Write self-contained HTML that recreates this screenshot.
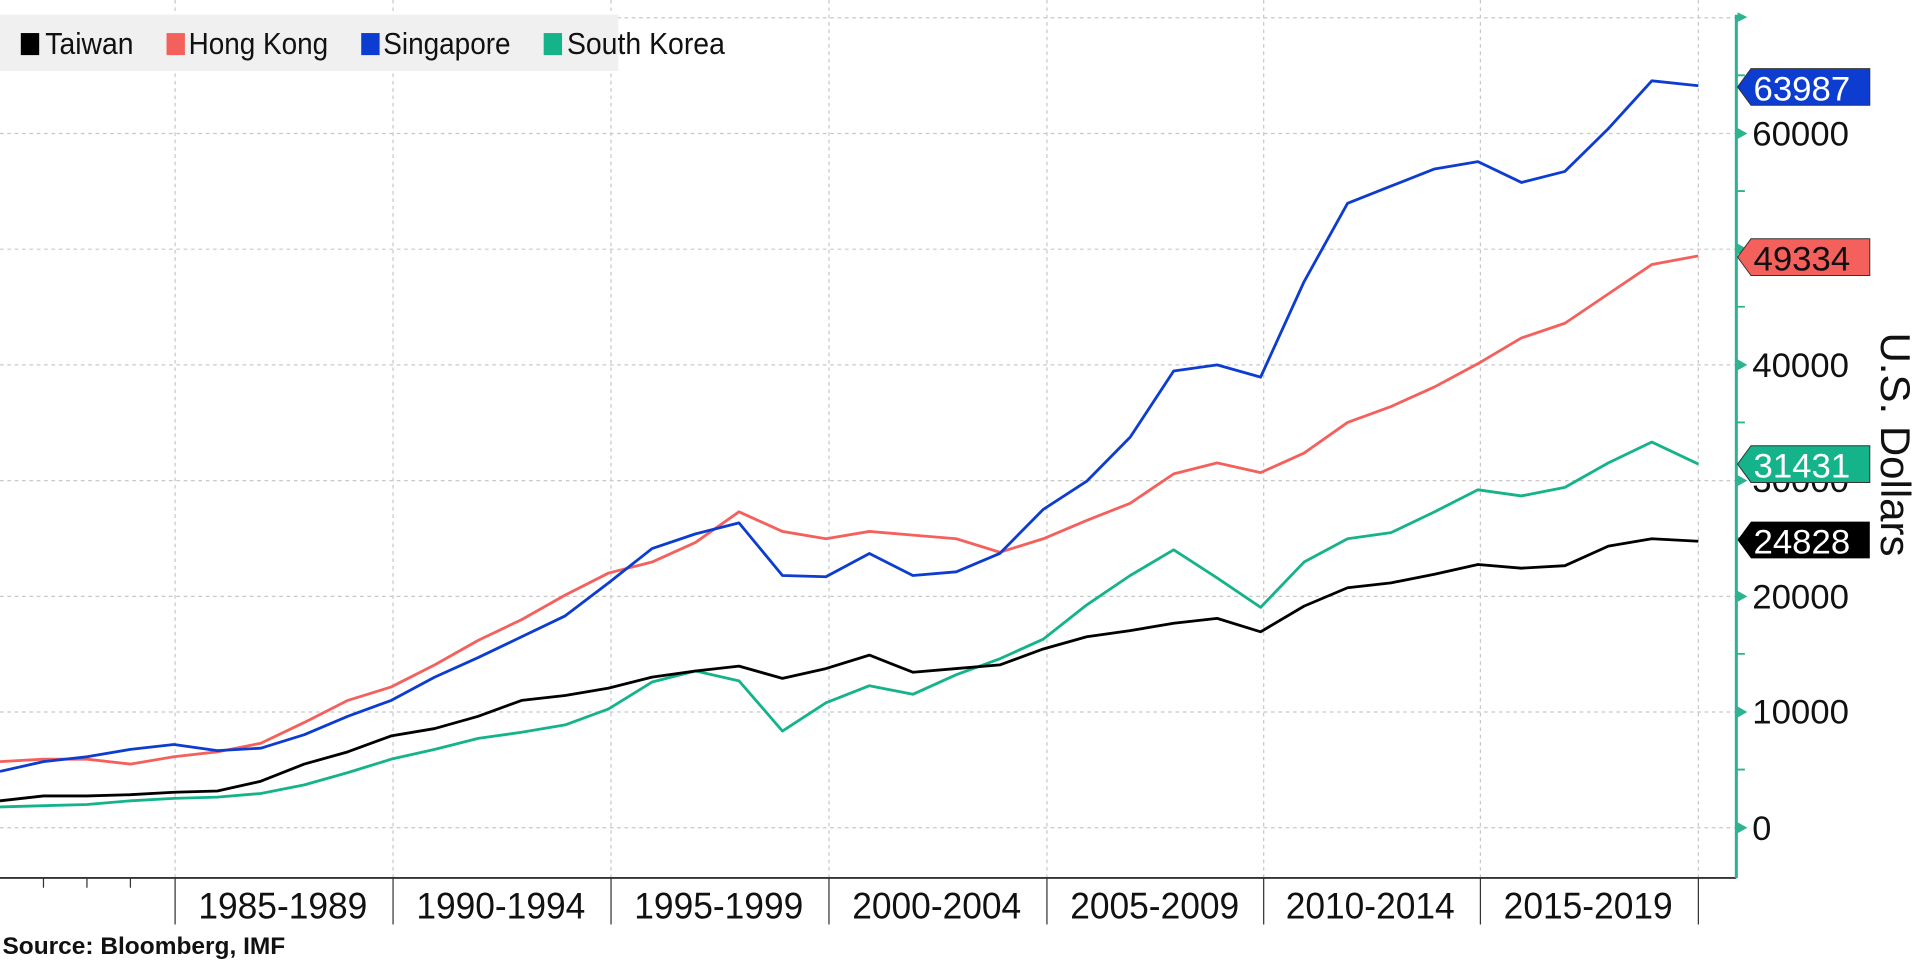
<!DOCTYPE html>
<html><head><meta charset="utf-8"><style>
html,body{margin:0;padding:0;background:#fff;width:1920px;height:960px;overflow:hidden}
svg{display:block}
text{font-family:"Liberation Sans Narrow","Liberation Sans",sans-serif}
</style></head><body>
<svg width="1920" height="960" viewBox="0 0 1568 784" preserveAspectRatio="none">
<g stroke="#c8c8c8" stroke-width="1" stroke-dasharray="3,3" fill="none">
<path d="M0 676H1418M0 581.5H1418M0 487H1418M0 392.5H1418M0 298H1418M0 203.5H1418M0 109H1418M0 14.5H1418"/>
<path d="M143 0V717M321 0V717M499 0V717M677 0V717M855 0V717M1032 0V717M1209 0V717M1387 0V717"/>
</g>
<rect x="0" y="12" width="505" height="46" fill="#f0f0f0"/>
<g font-size="25" fill="#111" lengthAdjust="spacingAndGlyphs">
<rect x="17" y="27" width="15" height="18" fill="#000"/><text x="37" y="44" textLength="72" lengthAdjust="spacingAndGlyphs">Taiwan</text>
<rect x="136" y="27" width="15" height="18" fill="#f4615d"/><text x="154" y="44" textLength="114" lengthAdjust="spacingAndGlyphs">Hong Kong</text>
<rect x="295" y="27" width="15" height="18" fill="#0c3cd0"/><text x="313" y="44" textLength="104" lengthAdjust="spacingAndGlyphs">Singapore</text>
<rect x="444" y="27" width="15" height="18" fill="#14b38a"/><text x="463" y="44" textLength="129" lengthAdjust="spacingAndGlyphs">South Korea</text>
</g>
<g fill="none" stroke-width="2.3" stroke-linejoin="round">
<polyline stroke="#14b38a" points="0,659 35.5,658 71,657 106.5,654 142,652 177.5,651 213,648 248.5,641 284,631 319.5,620 355,612 390.5,603 426,598 461.5,592 497,579 532.5,557 568,548 603.5,556 639,597 674.5,574 710,560 745.5,567 781,551 816.5,538 852,522 887.5,494 923,470 958.5,449 994,472 1029.5,496 1065,459 1100.5,440 1136,435 1171.5,418 1207,400 1242.5,405 1278,398 1313.5,378 1349,361 1387,379"/>
<polyline stroke="#000" points="0,654 35.5,650 71,650 106.5,649 142,647 177.5,646 213,638 248.5,624 284,614 319.5,601 355,595 390.5,585 426,572 461.5,568 497,562 532.5,553 568,548 603.5,544 639,554 674.5,546 710,535 745.5,549 781,546 816.5,543 852,530 887.5,520 923,515 958.5,509 994,505 1029.5,516 1065,495 1100.5,480 1136,476 1171.5,469 1207,461 1242.5,464 1278,462 1313.5,446 1349,440 1387,442"/>
<polyline stroke="#f4615d" points="0,622 35.5,620 71,620 106.5,624 142,618 177.5,614 213,607 248.5,590 284,572 319.5,561 355,543 390.5,523 426,506 461.5,486 497,468 532.5,459 568,443 603.5,418 639,434 674.5,440 710,434 745.5,437 781,440 816.5,451 852,440 887.5,425 923,411 958.5,387 994,378 1029.5,386 1065,370 1100.5,345 1136,332 1171.5,316 1207,297 1242.5,276 1278,264 1313.5,240 1349,216 1387,209"/>
<polyline stroke="#0c3cd0" points="0,630 35.5,622 71,618 106.5,612 142,608 177.5,613 213,611 248.5,600 284,585 319.5,572 355,553 390.5,537 426,520 461.5,503 497,476 532.5,448 568,436 603.5,427 639,470 674.5,471 710,452 745.5,470 781,467 816.5,452 852,416 887.5,393 923,357 958.5,303 994,298 1029.5,308 1065,230 1100.5,166 1136,152 1171.5,138 1207,132 1242.5,149 1278,140 1313.5,105 1349,66 1387,70"/>
</g>
<g stroke="#333" stroke-width="1.5">
<line x1="0" y1="717" x2="1418" y2="717"/>
<path d="M143 717V755M321 717V755M499 717V755M677 717V755M855 717V755M1032 717V755M1209 717V755M1387 717V755" stroke-width="1"/>
<path d="M35.5 717V725M71 717V725M106.5 717V725" stroke-width="1"/>
</g>
<g font-size="30" fill="#111">
<text x="162" y="750" textLength="138" lengthAdjust="spacingAndGlyphs">1985-1989</text><text x="340" y="750" textLength="138" lengthAdjust="spacingAndGlyphs">1990-1994</text><text x="518" y="750" textLength="138" lengthAdjust="spacingAndGlyphs">1995-1999</text><text x="696" y="750" textLength="138" lengthAdjust="spacingAndGlyphs">2000-2004</text><text x="874" y="750" textLength="138" lengthAdjust="spacingAndGlyphs">2005-2009</text><text x="1050" y="750" textLength="138" lengthAdjust="spacingAndGlyphs">2010-2014</text><text x="1228" y="750" textLength="138" lengthAdjust="spacingAndGlyphs">2015-2019</text>
</g>
<text x="2" y="779" font-size="20" font-weight="bold" font-family="Liberation Sans, sans-serif" fill="#111">Source: Bloomberg, IMF</text>
<line x1="1418" y1="12" x2="1418" y2="717" stroke="#2db38f" stroke-width="2.5"/>
<g fill="#2db38f">
<path d="M1419 10l8 4l-8 4z M1419 104.5l8 4.5l-8 4.5z M1419 199l8 4.5l-8 4.5z M1419 293.5l8 4.5l-8 4.5z M1419 388l8 4.5l-8 4.5z M1419 482.5l8 4.5l-8 4.5z M1419 577l8 4.5l-8 4.5z M1419 671.5l8 4.5l-8 4.5z"/>
</g>
<path d="M1419 61.5h6M1419 156h6M1419 250.5h6M1419 345h6M1419 439.5h6M1419 534h6M1419 628.5h6" stroke="#2db38f" stroke-width="1.5"/>
<g font-size="28" fill="#111">
<text x="1431" y="119" textLength="79" lengthAdjust="spacingAndGlyphs">60000</text><text x="1431" y="308" textLength="79" lengthAdjust="spacingAndGlyphs">40000</text><text x="1431" y="402" textLength="79" lengthAdjust="spacingAndGlyphs">30000</text><text x="1431" y="497" textLength="79" lengthAdjust="spacingAndGlyphs">20000</text><text x="1431" y="591" textLength="79" lengthAdjust="spacingAndGlyphs">10000</text><text x="1431" y="686">0</text>
</g>
<g font-size="28">
<path d="M1419 71l11 -15h97v30h-97z" fill="#0c3cd0" stroke="#333" stroke-width="0.8"/><text x="1432" y="82" fill="#fff" textLength="79" lengthAdjust="spacingAndGlyphs">63987</text>
<path d="M1419 210l11 -15h97v30h-97z" fill="#f4615d" stroke="#333" stroke-width="0.8"/><text x="1432" y="221" fill="#111" textLength="79" lengthAdjust="spacingAndGlyphs">49334</text>
<path d="M1419 379l11 -15h97v30h-97z" fill="#14b38a" stroke="#333" stroke-width="0.8"/><text x="1432" y="390" fill="#fff" textLength="79" lengthAdjust="spacingAndGlyphs">31431</text>
<path d="M1419 441l11 -15h97v30h-97z" fill="#000"/><text x="1432" y="452" fill="#fff" textLength="79" lengthAdjust="spacingAndGlyphs">24828</text>
</g>
<text transform="translate(1536,363) rotate(90)" font-size="34" text-anchor="middle" fill="#111" textLength="183" lengthAdjust="spacingAndGlyphs">U.S. Dollars</text>
</svg>
</body></html>
